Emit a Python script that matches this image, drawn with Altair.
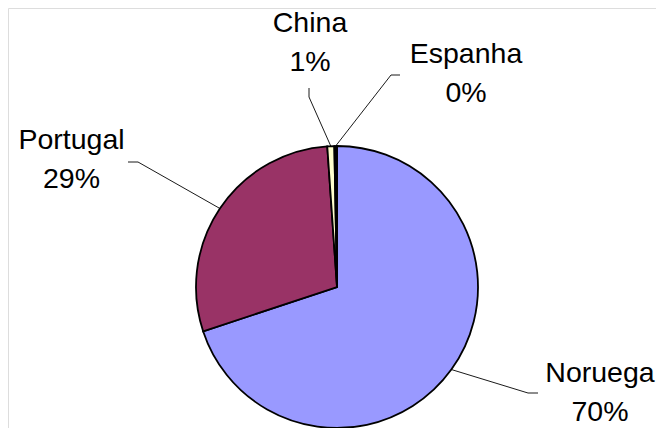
import math
import altair as alt
import pandas as pd

# ---- data ----
countries = ["Noruega", "Portugal", "China", "Espanha"]
values = [69.9, 29.0, 0.8, 0.3]
colors = ["#9999FF", "#993366", "#FFFFCC", "#000000"]

# ---- layout (chart pixel space; page = chart + 8px margin) ----
W, H = 648, 420
CX, CY, R = 329, 279, 141
# label anchor (centre x, first baseline y) and leader elbow / end points
label_anchor = {
    "Noruega": (592, 374),
    "Portugal": (63.5, 141),
    "China": (302, 24),
    "Espanha": (458, 55),
}
leader_elbow = {
    "Noruega": [(520, 385), (530, 385)],
    "Portugal": [(130, 154), (120, 154)],
    "China": [(301, 89), (301, 80)],
    "Espanha": [(383, 67), (392, 67)],
}

total = sum(values)
shares = [v / total * 100 for v in values]

pie_df = pd.DataFrame({"country": countries, "value": values,
                       "idx": list(range(len(countries)))})

# mid-angles of slices (clockwise from 12 o'clock)
mids = []
acc = 0.0
for s in shares:
    mids.append((acc + s / 2) / 100 * 2 * math.pi)
    acc += s

lab_rows = []
line_rows = []
for c, s, m in zip(countries, shares, mids):
    lx, ly = label_anchor[c]
    lab_rows.append({"country": c, "x": lx, "y": ly,
                     "label": f"{c}\n{round(s)}%"})
    pts = [(CX + R * math.sin(m), CY - R * math.cos(m))] + leader_elbow[c]
    for k, (px, py) in enumerate(pts):
        line_rows.append({"country": c, "k": k, "x": px, "y": py})
lab_df = pd.DataFrame(lab_rows)
line_df = pd.DataFrame(line_rows)

pie = alt.Chart(pie_df).mark_arc(
    outerRadius=R, stroke="#000000", strokeWidth=1.8
).encode(
    theta=alt.Theta("value:Q", stack=True),
    color=alt.Color("country:N", sort=countries,
                    scale=alt.Scale(domain=countries, range=colors),
                    legend=None),
    order=alt.Order("idx:Q"),
    x=alt.value(CX),
    y=alt.value(CY),
)

leaders = alt.Chart(line_df).mark_line(
    color="#000000", strokeWidth=0.9
).encode(
    x=alt.X("x:Q", scale=None, axis=None),
    y=alt.Y("y:Q", scale=None, axis=None),
    detail="country:N",
    order="k:Q",
)

labels = alt.Chart(lab_df).mark_text(
    font="Liberation Sans", fontSize=28.5, color="#000000",
    align="center", baseline="alphabetic", lineBreak="\n", lineHeight=38.5,
).encode(
    x=alt.X("x:Q", scale=None, axis=None),
    y=alt.Y("y:Q", scale=None, axis=None),
    text="label:N",
)

chart = alt.layer(leaders, pie, labels).properties(
    width=W, height=H, padding=0, autosize=alt.AutoSizeParams(type="none")
).configure_view(stroke=None).configure(background="#ffffff")

chart.save("out.html", embed_options={"renderer": "svg", "actions": False})
